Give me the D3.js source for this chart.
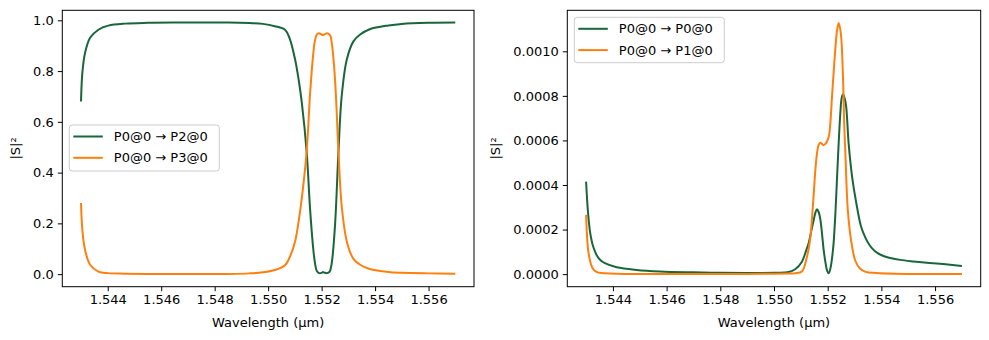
<!DOCTYPE html>
<html><head><meta charset="utf-8">
<script src="https://cdn.jsdelivr.net/npm/d3@7"></script>
<style>
body{margin:0;background:#fff;}
text{font-family:"DejaVu Sans",sans-serif;}
</style></head>
<body><svg id="c" width="989" height="340"></svg>
<script>
// ---------- DATA ----------
const xTicks = [1.544, 1.546, 1.548, 1.550, 1.552, 1.554, 1.556];
const yTicksLeft = [0.0, 0.2, 0.4, 0.6, 0.8, 1.0];
const yTicksRight = [0, 0.0002, 0.0004, 0.0006, 0.0008, 0.0010];

const leftLabels = ["P0@0 \u2192 P2@0", "P0@0 \u2192 P3@0"];
const rightLabels = ["P0@0 \u2192 P0@0", "P0@0 \u2192 P1@0"];

// Left: P0 -> P2
const wlP2 = [1.5430,1.54305,1.54315,1.54334,1.54365,1.54402,1.54465,1.5455,1.5465,1.5475,1.5485,1.5493,1.5498,1.55025,1.55063,1.5508,1.55101,1.55115,1.55126,1.55144,1.55157,1.55169,1.55175,1.55182,1.5519,1.5520,1.55205,1.5521,1.5522,1.5523,1.55238,1.5525,1.55263,1.55275,1.55294,1.55319,1.55344,1.5538,1.5545,1.5550,1.556,1.557];
const valP2 = [0.68,0.793,0.871,0.931,0.963,0.979,0.987,0.990,0.991,0.991,0.991,0.989,0.986,0.977,0.963,0.93,0.845,0.76,0.675,0.483,0.254,0.096,0.045,0.012,0.004,0.005,0.008,0.006,0.004,0.010,0.045,0.19,0.483,0.70,0.845,0.917,0.944,0.965,0.980,0.986,0.990,0.991];
// Left: P0 -> P3
const wlP3 = [1.5430,1.54305,1.54315,1.54334,1.54365,1.54402,1.54465,1.5455,1.5465,1.5475,1.5485,1.5493,1.5498,1.55025,1.55063,1.5508,1.55101,1.55115,1.55126,1.55144,1.55157,1.55169,1.55175,1.55182,1.5519,1.5520,1.55205,1.5521,1.5522,1.55232,1.55238,1.5525,1.55263,1.55275,1.55294,1.55319,1.55344,1.5538,1.5545,1.5550,1.556,1.557];
const valP3 = [0.28,0.175,0.096,0.037,0.010,0.004,0.002,0.001,0.001,0.001,0.001,0.003,0.007,0.016,0.035,0.065,0.13,0.215,0.30,0.483,0.714,0.871,0.92,0.944,0.949,0.944,0.942,0.944,0.949,0.94,0.91,0.77,0.483,0.27,0.13,0.060,0.037,0.020,0.008,0.005,0.003,0.002];

// Right: P0 -> P0
const wlP0 = [1.5430,1.54304,1.54308,1.54314,1.5432,1.54326,1.54339,1.54351,1.5437,1.54414,1.54488,1.54575,1.547,1.548,1.549,1.5500,1.5505,1.55079,1.55104,1.55118,1.55129,1.5514,1.55148,1.55154,1.5516,1.55166,1.55173,1.55179,1.55185,1.55192,1.55198,1.55204,1.5521,1.55216,1.55222,1.55229,1.55235,1.55241,1.55247,1.55252,1.55257,1.55263,1.55269,1.55278,1.55291,1.55305,1.55324,1.5534,1.55355,1.5537,1.55385,1.5541,1.55434,1.5547,1.5552,1.5558,1.5564,1.557];
const valP0 = [4.15e-4,3.3e-4,2.65e-4,1.95e-4,1.54e-4,1.25e-4,8.6e-5,6.6e-5,4.9e-5,3.1e-5,1.9e-5,1.2e-5,8e-6,6e-6,5e-6,6e-6,8e-6,2.2e-5,5.6e-5,1.0e-4,1.39e-4,2.0e-4,2.43e-4,2.75e-4,2.91e-4,2.8e-4,2.43e-4,1.8e-4,1.09e-4,5e-5,1.5e-5,4e-6,2.5e-5,7e-5,1.39e-4,2.8e-4,4.37e-4,5.9e-4,7.21e-4,7.9e-4,8.07e-4,7.9e-4,7.5e-4,5.87e-4,4.37e-4,3.3e-4,2.15e-4,1.65e-4,1.32e-4,1.10e-4,9.5e-5,8.0e-5,7.2e-5,6.4e-5,5.7e-5,5.0e-5,4.4e-5,3.7e-5];
// Right: P0 -> P1
const wlP1 = [1.5430,1.54304,1.54308,1.54314,1.5432,1.54326,1.54339,1.54351,1.5437,1.54414,1.54488,1.547,1.549,1.5500,1.5505,1.55079,1.55104,1.55123,1.55135,1.55142,1.55148,1.55154,1.5516,1.55166,1.55173,1.55185,1.55195,1.55204,1.5521,1.55216,1.55223,1.55229,1.55235,1.55241,1.55249,1.55256,1.55262,1.55266,1.55275,1.55288,1.55303,1.5532,1.55341,1.5538,1.5545,1.557];
const valP1 = [2.66e-4,1.6e-4,1.05e-4,6.4e-5,3.8e-5,2.4e-5,1.0e-5,6e-6,4e-6,2e-6,1e-6,1e-6,1e-6,2e-6,3e-6,4e-6,1.2e-5,7.9e-5,1.6e-4,2.58e-4,3.6e-4,4.67e-4,5.4e-4,5.79e-4,5.9e-4,5.78e-4,5.9e-4,6.16e-4,6.8e-4,7.95e-4,9.2e-4,1.019e-3,1.095e-3,1.127e-3,1.08e-3,9.2e-4,6.6e-4,5.4e-4,2.88e-4,1.45e-4,6e-5,2.5e-5,1.0e-5,5e-6,2e-6,1e-6];

const green = "#19663a";
const orange = "#ff7f0e";

// ---------- DRAW ----------
const svg = d3.select("#c");
const FS = 13;

function panel(cfg) {
  const x = d3.scaleLinear().domain([1.5423, 1.5577]).range([cfg.x0, cfg.x1]);
  const y = d3.scaleLinear().domain(cfg.ydom).range([cfg.y1, cfg.y0]);
  const g = svg.append("g");

  const line = d3.line().x(d => x(d[0])).y(d => y(d[1])).curve(d3.curveCatmullRom.alpha(0.5));
  cfg.series.forEach(s => {
    g.append("path").datum(d3.zip(s.wl, s.v))
      .attr("d", line).attr("fill", "none").attr("stroke", s.color)
      .attr("stroke-width", 2).attr("stroke-linejoin", "round");
  });

  const xa = g.append("g").attr("transform", `translate(0,${cfg.y1})`)
    .call(d3.axisBottom(x).tickValues(xTicks).tickFormat(d3.format(".3f")).tickSizeOuter(0).tickSize(4.5).tickPadding(4));
  const ya = g.append("g").attr("transform", `translate(${cfg.x0},0)`)
    .call(d3.axisLeft(y).tickValues(cfg.yticks).tickFormat(d3.format(cfg.yfmt)).tickSizeOuter(0).tickSize(4.5).tickPadding(4));
  [xa, ya].forEach(a => {
    a.select(".domain").remove();
    a.selectAll("text").attr("font-size", FS).attr("fill", "#000").attr("font-family", "DejaVu Sans");
    a.selectAll("line").attr("stroke", "#000").attr("stroke-width", 1);
  });

  g.append("rect").attr("x", cfg.x0).attr("y", cfg.y0)
    .attr("width", cfg.x1 - cfg.x0).attr("height", cfg.y1 - cfg.y0)
    .attr("fill", "none").attr("stroke", "#000").attr("stroke-width", 1);

  g.append("text").attr("x", (cfg.x0 + cfg.x1) / 2).attr("y", 327)
    .attr("text-anchor", "middle").attr("font-size", FS).text("Wavelength (\u00b5m)");
  g.append("text").attr("transform", `translate(${cfg.ylabX},${(cfg.y0 + cfg.y1) / 2}) rotate(-90)`)
    .attr("text-anchor", "middle").attr("font-size", FS).text("|S|\u00b2");

  // legend
  const L = cfg.legend;
  const lg = g.append("g");
  lg.append("rect").attr("x", L.x).attr("y", L.y).attr("width", L.w).attr("height", L.h)
    .attr("rx", 3).attr("fill", "#fff").attr("fill-opacity", 0.8)
    .attr("stroke", "#cccccc").attr("stroke-width", 1);
  cfg.series.forEach((s, i) => {
    const yy = L.y + 11.5 + i * 21.3;
    lg.append("line").attr("x1", L.x + 4).attr("x2", L.x + 33.5).attr("y1", yy).attr("y2", yy)
      .attr("stroke", s.color).attr("stroke-width", 2);
    lg.append("text").attr("x", L.x + 44.5).attr("y", yy).attr("dy", "0.35em")
      .attr("font-size", FS).text(s.label);
  });
}

panel({
  x0: 62.3, x1: 474, y0: 10.3, y1: 286.7,
  ydom: [-0.0495, 1.0395], yticks: yTicksLeft, yfmt: ".1f", ylabX: 20,
  legend: {x: 69.3, y: 125, w: 150, h: 46},
  series: [
    {wl: wlP2, v: valP2, color: green, label: leftLabels[0]},
    {wl: wlP3, v: valP3, color: orange, label: leftLabels[1]}
  ]
});
panel({
  x0: 567.3, x1: 980.7, y0: 10.3, y1: 286.7,
  ydom: [-0.0000564, 0.001184], yticks: yTicksRight, yfmt: ".4f", ylabX: 500,
  legend: {x: 574.3, y: 17.3, w: 150, h: 45.4},
  series: [
    {wl: wlP0, v: valP0, color: green, label: rightLabels[0]},
    {wl: wlP1, v: valP1, color: orange, label: rightLabels[1]}
  ]
});
</script></body></html>
